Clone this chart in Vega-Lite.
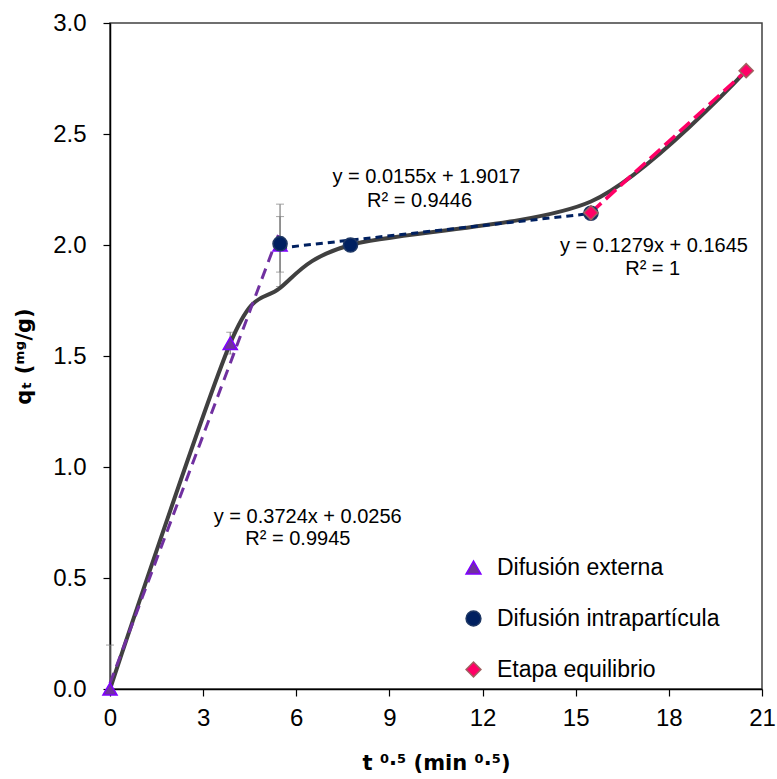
{
  "$schema": "https://vega.github.io/schema/vega-lite/v6.json",
  "width": 652,
  "height": 666,
  "autosize": {"type": "none"},
  "padding": {"left": 110, "top": 23, "right": 15, "bottom": 90},
  "background": "white",
  "config": {
    "view": {"stroke": "#404040", "strokeWidth": 1.5},
    "font": "Liberation Sans",
    "axis": {
      "grid": false,
      "domainColor": "black",
      "domainWidth": 1.5,
      "tickColor": "black",
      "tickWidth": 1.2,
      "tickSize": 7,
      "labelFlush": false,
      "labelFont": "Liberation Sans",
      "labelFontSize": 24,
      "labelColor": "black",
      "titleFont": "DejaVu Sans",
      "titleFontSize": 21,
      "titleFontWeight": "bold",
      "titleColor": "black"
    }
  },
  "datasets": {
    "points": [
      {"t": 0, "q": 0, "serie": "Difusión externa"},
      {"t": 3.873, "q": 1.557, "serie": "Difusión externa"},
      {"t": 5.477, "q": 2.0, "serie": "Difusión externa"},
      {"t": 5.477, "q": 2.006, "serie": "Difusión intrapartícula"},
      {"t": 7.746, "q": 2.0, "serie": "Difusión intrapartícula"},
      {"t": 15.49, "q": 2.143, "serie": "Difusión intrapartícula"},
      {"t": 15.49, "q": 2.145, "serie": "Etapa equilibrio"},
      {"t": 20.49, "q": 2.785, "serie": "Etapa equilibrio"}
    ],
    "trend": [
      {"t": 0, "q": 0.0256, "serie": "Difusión externa"},
      {"t": 5.477, "q": 2.065, "serie": "Difusión externa"},
      {"t": 5.477, "q": 1.9866, "serie": "Difusión intrapartícula"},
      {"t": 15.49, "q": 2.142, "serie": "Difusión intrapartícula"},
      {"t": 15.49, "q": 2.146, "serie": "Etapa equilibrio"},
      {"t": 20.49, "q": 2.785, "serie": "Etapa equilibrio"}
    ],
    "curve": [
      {"t": 0, "q": 0},
      {"t": 3.873, "q": 1.557},
      {"t": 5.477, "q": 1.806},
      {"t": 7.746, "q": 2.0},
      {"t": 15.49, "q": 2.196},
      {"t": 20.49, "q": 2.785}
    ],
    "errors": [
      {"t": 0, "lo": 0, "hi": 0.198},
      {"t": 3.873, "lo": 1.509, "hi": 1.607},
      {"t": 5.477, "lo": 1.813, "hi": 2.184},
      {"t": 5.477, "lo": 1.878, "hi": 2.128}
    ],
    "labels": [
      {"t": 6.37, "q": 0.775, "label": "y = 0.3724x + 0.0256"},
      {"t": 6.05, "q": 0.677, "label": "R² = 0.9945"},
      {"t": 10.19, "q": 2.305, "label": "y = 0.0155x + 1.9017"},
      {"t": 9.97, "q": 2.2, "label": "R² = 0.9446"},
      {"t": 17.52, "q": 1.995, "label": "y = 0.1279x + 0.1645"},
      {"t": 17.48, "q": 1.892, "label": "R² = 1"}
    ]
  },
  "encoding": {
    "x": {
      "field": "t", "type": "quantitative",
      "scale": {"domain": [0, 21], "nice": false},
      "axis": {"values": [0, 3, 6, 9, 12, 15, 18, 21], "title": "t ⁰·⁵ (min ⁰·⁵)", "labelPadding": 10, "titlePadding": 22}
    },
    "y": {
      "field": "q", "type": "quantitative",
      "scale": {"domain": [0, 3], "nice": false},
      "axis": {"values": [0, 0.5, 1, 1.5, 2, 2.5, 3], "format": ".1f", "title": "qₜ (ᵐᵍ/g)", "labelPadding": 17, "titlePadding": 18}
    }
  },
  "layer": [
    {
      "data": {"name": "errors"},
      "mark": {"type": "errorbar", "ticks": {"size": 8, "color": "#7f7f7f"}, "rule": {"color": "#7f7f7f", "strokeWidth": 1.2}},
      "encoding": {
        "x": {"field": "t", "type": "quantitative"},
        "y": {"field": "lo", "type": "quantitative"},
        "y2": {"field": "hi"}
      }
    },
    {
      "data": {"name": "curve"},
      "mark": {"type": "line", "interpolate": "cardinal", "tension": 0.15, "color": "#404040", "strokeWidth": 4},
      "encoding": {}
    },
    {
      "data": {"name": "trend"},
      "transform": [{"filter": "datum.serie === 'Difusión externa'"}],
      "mark": {"type": "line", "color": "#7030A0", "strokeWidth": 3, "strokeDash": [11, 7]},
      "encoding": {}
    },
    {
      "data": {"name": "trend"},
      "transform": [{"filter": "datum.serie === 'Difusión intrapartícula'"}],
      "mark": {"type": "line", "color": "#002060", "strokeWidth": 3, "strokeDash": [7, 5]},
      "encoding": {}
    },
    {
      "data": {"name": "trend"},
      "transform": [{"filter": "datum.serie === 'Etapa equilibrio'"}],
      "mark": {"type": "line", "color": "#FF0066", "strokeWidth": 3.5, "strokeDash": [14, 6]},
      "encoding": {}
    },
    {
      "data": {"name": "points"},
      "mark": {"type": "point", "filled": true, "opacity": 1, "strokeWidth": 1.5},
      "encoding": {
        "fill": {
          "field": "serie", "type": "nominal",
          "scale": {"domain": ["Difusión externa", "Difusión intrapartícula", "Etapa equilibrio"], "range": ["#7030A0", "#002060", "#FF0066"]},
          "legend": {
            "title": null, "orient": "none", "legendX": 352, "legendY": 533,
            "labelFont": "Liberation Sans", "labelFontSize": 23, "labelColor": "black", "labelLimit": 0,
            "rowPadding": 27, "symbolSize": 220, "labelOffset": 12, "padding": 0
          }
        },
        "stroke": {
          "field": "serie", "type": "nominal",
          "scale": {"domain": ["Difusión externa", "Difusión intrapartícula", "Etapa equilibrio"], "range": ["#7F00FF", "#1F3864", "#A0605F"]}
        },
        "shape": {
          "field": "serie", "type": "nominal",
          "scale": {"domain": ["Difusión externa", "Difusión intrapartícula", "Etapa equilibrio"], "range": ["triangle-up", "circle", "diamond"]}
        },
        "size": {"value": 200}
      }
    },
    {
      "data": {"name": "labels"},
      "mark": {"type": "text", "font": "Liberation Sans", "fontSize": 20, "color": "black", "align": "center", "baseline": "middle"},
      "encoding": {"text": {"field": "label"}}
    }
  ]
}
